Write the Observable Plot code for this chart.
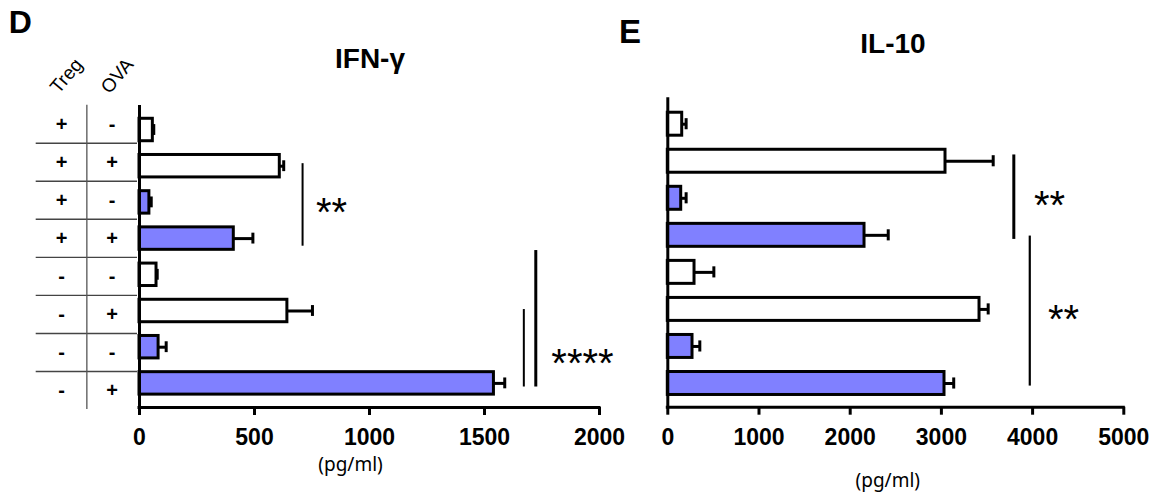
<!DOCTYPE html>
<html><head><meta charset="utf-8">
<script src="https://cdn.jsdelivr.net/npm/d3@7"></script>
<script src="https://cdn.jsdelivr.net/npm/@observablehq/plot@0.6"></script>
<style>
html,body{margin:0;padding:0;background:#fff;}
#wrap{position:relative;width:1157px;height:495px;overflow:hidden;font-family:"Liberation Sans",Arial,sans-serif;}
#wrap svg{position:absolute;top:0;}
.lbl{position:absolute;line-height:1;font-weight:bold;color:#000;white-space:nowrap;font-family:"Liberation Sans",Arial,sans-serif;}
</style></head><body><div id="wrap"></div>
<script>
// ---- data ----
const rowIds = [1, 2, 3, 4, 5, 6, 7, 8];
const treg = ["+", "+", "+", "+", "-", "-", "-", "-"];
const ova = ["-", "+", "-", "+", "-", "+", "-", "+"];
const group = ["open", "open", "filled", "filled", "open", "open", "filled", "filled"];
const tableHeaders = ["Treg", "OVA"];

const ifnMean = [58, 610, 43, 410, 74, 643, 83, 1541];
const ifnErr = [4, 17, 8, 83, 3, 109, 33, 47];
const ifnTicks = [0, 500, 1000, 1500, 2000];

const il10Mean = [158, 3045, 147, 2157, 293, 3418, 271, 3034];
const il10Err = [43, 523, 54, 260, 212, 95, 80, 101];
const il10Ticks = [0, 1000, 2000, 3000, 4000, 5000];

const ifnSigLines = [
  {x: 709, y1: 1.93, y2: 4.21, w: 2},
  {x: 1671, y1: 5.96, y2: 8.1, w: 2},
  {x: 1723, y1: 4.33, y2: 8.1, w: 3}
];
const ifnSigStars = [{x: 835, y: 3.02, stars: "**"}, {x: 1926, y: 7.18, stars: "****"}];
const il10SigLines = [
  {x: 3794, y1: 1.83, y2: 4.11, w: 3},
  {x: 3969, y1: 4.02, y2: 8.07, w: 2.2}
];
const il10SigStars = [{x: 4185, y: 2.94, stars: "**"}, {x: 4339, y: 6.03, stars: "**"}];

const unitLabel = "(pg/ml)";
const panelLetters = ["D", "E"];
const titles = ["IFN-γ", "IL-10"];

// ---- build ----
const wrap = document.getElementById("wrap");
const FONT = "'Liberation Sans', Arial, sans-serif";
const rows = (means, errs) => rowIds.map((r, i) => ({row: r, mean: means[i], err: errs[i], group: group[i], treg: treg[i], ova: ova[i]}));

function place(svg, left) { svg.style.left = left + "px"; wrap.appendChild(svg); }

// table
const tableRows = rows(ifnMean, ifnErr);
const table = Plot.plot({
  width: 139, height: 495,
  marginLeft: 35.7, marginRight: 2, marginTop: 104.7, marginBottom: 86,
  style: {background: "transparent", fontFamily: FONT, overflow: "visible"},
  x: {domain: [0, 2], axis: null},
  y: {domain: [0.5, 8.5], reverse: true, axis: null},
  marks: [
    Plot.ruleY(d3.range(1.5, 8, 1), {stroke: "#444", strokeWidth: 1.4}),
    Plot.ruleX([1], {stroke: "#555", strokeWidth: 1.3}),
    Plot.text(tableRows, {x: 0.5, y: "row", text: "treg", fontSize: 20, fontWeight: "bold"}),
    Plot.text(tableRows, {x: 1.5, y: "row", text: "ova", fontSize: 20, fontWeight: "bold"}),
    Plot.text(tableHeaders, {x: (d, i) => i + 0.5, y: -0.27, dx: 5, text: d => d, rotate: -50, fontSize: 19})
  ]
});
place(table, 0);

function panel({data, ticks, sigLines, sigStars, width, marginLeft, marginRight, marginTop, marginBottom, yDomain, unitDx, unitDy}) {
  const xMax = ticks[ticks.length - 1];
  return Plot.plot({
    width, height: 495, marginLeft, marginRight, marginTop, marginBottom,
    style: {background: "transparent", fontFamily: FONT, overflow: "visible"},
    x: {domain: [0, xMax]},
    y: {domain: yDomain, reverse: true, axis: null},
    color: {domain: ["open", "filled"], range: ["white", "#8080ff"]},
    marks: [
      Plot.ruleY(data, {y: "row", x1: "mean", x2: d => d.mean + d.err, strokeWidth: 3}),
      Plot.ruleX(data, {x: d => d.mean + d.err, y1: d => d.row - 0.15, y2: d => d.row + 0.15, strokeWidth: 3}),
      Plot.rectX(data, {x1: 0, x2: "mean", y1: d => d.row - 0.31, y2: d => d.row + 0.31, fill: "group", stroke: "black", strokeWidth: 3}),
      Plot.ruleX([0], {strokeWidth: 3}),
      Plot.ruleY([yDomain[1]], {strokeWidth: 3, strokeLinecap: "square"}),
      Plot.axisX({ticks, tickSize: 8, tickPadding: 13, strokeWidth: 3, fontSize: 23, fontWeight: "bold", tickFormat: d => String(d), label: null}),
      Plot.ruleX(sigLines, {x: "x", y1: "y1", y2: "y2", strokeWidth: "w"}),
      Plot.text(sigStars, {x: "x", y: "y", text: "stars", fontSize: 40, dy: 10}),
      Plot.text([unitLabel], {x: xMax / 2, frameAnchor: "bottom", dx: unitDx, dy: unitDy, text: d => d, fontSize: 19, fontFamily: "'Noto Sans', sans-serif", fontWeight: "normal"})
    ]
  });
}

place(panel({data: rows(ifnMean, ifnErr), ticks: ifnTicks, sigLines: ifnSigLines, sigStars: ifnSigStars,
  width: 640, marginLeft: 139, marginRight: 41, marginTop: 105, marginBottom: 88,
  yDomain: [0.323, 8.666], unitDx: -19, unitDy: 63}), 0);

place(panel({data: rows(il10Mean, il10Err), ticks: il10Ticks, sigLines: il10SigLines, sigStars: il10SigStars,
  width: 597, marginLeft: 107.3, marginRight: 33.7, marginTop: 97.3, marginBottom: 88.3,
  yDomain: [0.287, 8.64], unitDx: -8, unitDy: 80}), 560);

// titles and panel letters
function label(text, {left, top, size, center}) {
  const d = document.createElement("div");
  d.className = "lbl";
  d.textContent = text;
  d.style.fontSize = size + "px";
  d.style.top = top + "px";
  if (center != null) { d.style.left = (center - 150) + "px"; d.style.width = "300px"; d.style.textAlign = "center"; }
  else d.style.left = left + "px";
  wrap.appendChild(d);
}
label(panelLetters[0], {left: 8.7, top: 5.9, size: 32});
label(panelLetters[1], {left: 619, top: 15.4, size: 33});
label(titles[0], {center: 370, top: 44.6, size: 28});
label(titles[1], {center: 893, top: 29.6, size: 28});
</script></body></html>
